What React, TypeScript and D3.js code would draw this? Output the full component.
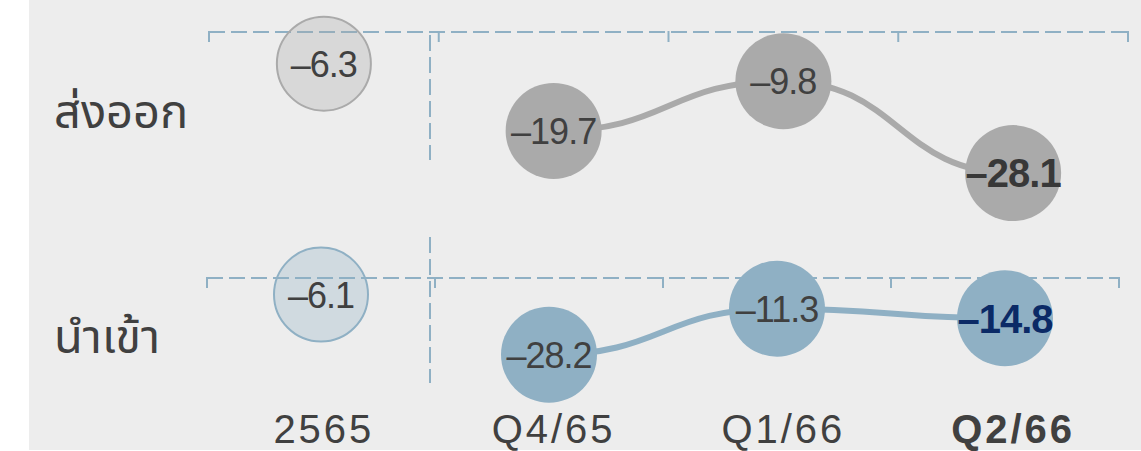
import { useEffect, useRef } from "react";
import * as d3 from "d3";

const categories = ["2565", "Q4/65", "Q1/66", "Q2/66"];
const exportValues = [-6.3, -19.7, -9.8, -28.1];
const importValues = [-6.1, -28.2, -11.3, -14.8];
const rowLabels = ["ส่งออก", "นำเข้า"];

const W = 1141;
const H = 451;
const FONT = "'Liberation Sans', Arial, Helvetica, sans-serif";
const THAI_FONT = "'Noto Sans Thai', 'Noto Sans', 'DejaVu Sans', sans-serif";
const DASH = "#8fb0c4";

const fmt = (v: number) => (v < 0 ? "–" : "") + Math.abs(v).toFixed(1);

export default function App() {
  const svgRef = useRef<SVGSVGElement>(null);

  useEffect(() => {
    if (!svgRef.current) return;
    const svg = d3.select(svgRef.current);
    svg.selectAll("*").remove();

    // background panel
    svg.append("rect")
      .attr("x", 29)
      .attr("y", 0)
      .attr("width", W - 29)
      .attr("height", H - 1)
      .attr("fill", "#ededed");

    const panels = [
      {
        values: exportValues,
        x: d3.scaleBand<string>().domain(categories).range([209, 1128]),
        y: d3.scaleLinear().domain([0, -30]).range([32, 182.6]),
        color: "#aaaaaa",
        lastColor: "#383838",
        label: rowLabels[0],
        labelY: 128,
      },
      {
        values: importValues,
        x: d3.scaleBand<string>().domain(categories).range([207, 1119]),
        y: d3.scaleLinear().domain([0, -30]).range([278, 359.6]),
        color: "#8fb0c4",
        lastColor: "#0b2a66",
        label: rowLabels[1],
        labelY: 353,
      },
    ];

    // vertical separator between the year and the quarters
    const sepX = 430;
    [[35, 160], [237, 383]].forEach(([y1, y2]) => {
      svg.append("line")
        .attr("x1", sepX).attr("x2", sepX)
        .attr("y1", y1).attr("y2", y2)
        .attr("stroke", DASH)
        .attr("stroke-width", 2)
        .attr("stroke-dasharray", "16,6");
    });

    panels.forEach((p) => {
      const [x0, x1] = p.x.range();
      const zeroY = p.y(0);
      const g = svg.append("g");

      // zero line with band ticks
      g.append("line")
        .attr("x1", x0).attr("x2", x1)
        .attr("y1", zeroY).attr("y2", zeroY)
        .attr("stroke", DASH)
        .attr("stroke-width", 2)
        .attr("stroke-dasharray", "16,6");
      const edges = categories.map((c) => p.x(c)!).concat([x1]);
      edges.forEach((ex) => {
        g.append("line")
          .attr("x1", ex).attr("x2", ex)
          .attr("y1", zeroY - 1).attr("y2", zeroY + 10)
          .attr("stroke", DASH)
          .attr("stroke-width", 2);
      });

      // row label
      svg.append("text")
        .attr("x", 54)
        .attr("y", p.labelY)
        .attr("font-family", THAI_FONT)
        .attr("font-size", 47)
        .attr("fill", "#404040")
        .text(p.label);

      const cx = (i: number) => p.x(categories[i])! + p.x.bandwidth() / 2;

      // connecting curve for the quarterly points
      const pts = p.values.map((v, i) => [cx(i), p.y(v)] as [number, number]).slice(1);
      const line = d3.line().curve(d3.curveBumpX);
      g.append("path")
        .attr("d", line(pts))
        .attr("fill", "none")
        .attr("stroke", p.color)
        .attr("stroke-width", 6);

      p.values.forEach((v, i) => {
        const isYear = i === 0;
        const isLast = i === p.values.length - 1;
        g.append("circle")
          .attr("cx", cx(i))
          .attr("cy", p.y(v))
          .attr("r", isYear ? 47 : 48)
          .attr("fill", p.color)
          .attr("fill-opacity", isYear ? 0.3 : 1)
          .attr("stroke", isYear ? p.color : "none")
          .attr("stroke-width", 2);
        g.append("text")
          .attr("x", cx(i))
          .attr("y", p.y(v))
          .attr("dy", "0.36em")
          .attr("text-anchor", "middle")
          .attr("font-family", FONT)
          .attr("font-size", isLast ? 40 : 36)
          .attr("font-weight", isLast ? 700 : 400)
          .attr("letter-spacing", -1)
          .attr("fill", isLast ? p.lastColor : "#404040")
          .text(fmt(v));
      });
    });

    // category labels
    const xTop = panels[0].x;
    categories.forEach((c, i) => {
      const isLast = i === categories.length - 1;
      svg.append("text")
        .attr("x", xTop(c)! + xTop.bandwidth() / 2)
        .attr("y", 443)
        .attr("text-anchor", "middle")
        .attr("font-family", FONT)
        .attr("font-size", 40)
        .attr("font-weight", isLast ? 700 : 400)
        .attr("letter-spacing", 3)
        .attr("fill", "#404040")
        .text(c);
    });
  }, []);

  return (
    <svg
      ref={svgRef}
      width={W}
      height={H}
      style={{ position: "absolute", left: 0, top: 0, background: "#fff" }}
    />
  );
}
